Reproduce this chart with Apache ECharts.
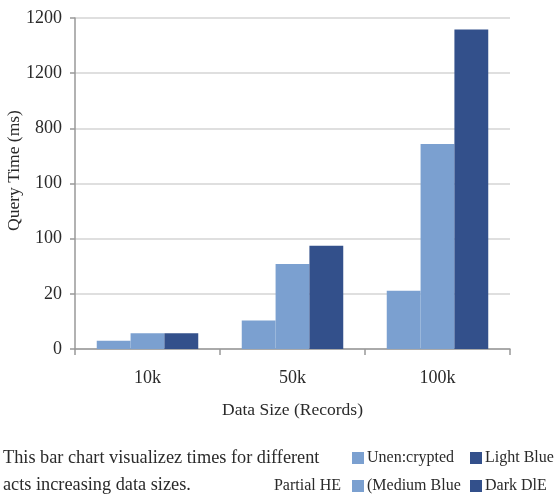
<!DOCTYPE html>
<html>
<head>
  <meta charset="UTF-8">
  <title>Query Time</title>
  <script src="https://cdn.jsdelivr.net/npm/echarts@6/dist/echarts.min.js"></script>
  <style>
    html, body { margin: 0; padding: 0; background: #fff; }
  </style>
</head>
<body>
  <div id="chart" style="width: 556px; height: 498px"></div>
  <script>
    // data
    const categories = ['10k', '50k', '100k'];
    const unencrypted = [30, 103, 211];
    const partialHE = [57, 308, 743];
    const fullHE = [57, 374, 1158];
    // tick labels as printed (they don't follow the scale)
    const yTickLabels = ['0', '20', '100', '100', '800', '1200', '1200'];

    const light = '#7ba0d0';
    const dark = '#33508b';
    const font = 'Liberation Serif';
    const textColor = '#2a2a2a';

    const myChart = echarts.init(document.getElementById('chart'));

    // legend + caption drawn as plain text, layout is not a normal legend
    function swatch(x, y, color) {
      return { type: 'rect', shape: { x: x, y: y, width: 12, height: 12 }, style: { fill: color } };
    }
    function label(x, y, text, size, align) {
      return {
        type: 'text', x: x, y: y,
        style: { text: text, fill: textColor, font: size + 'px "' + font + '"', textAlign: align || 'left', textVerticalAlign: 'middle' }
      };
    }

    const option = {
      animation: false,
      grid: { left: 75, right: 46, top: 18, bottom: 149, outerBoundsMode: 'none', containLabel: false },
      xAxis: {
        type: 'category',
        data: categories,
        name: 'Data Size (Records)',
        nameLocation: 'middle',
        nameGap: 52,
        nameMoveOverlap: false,
        nameTextStyle: { fontFamily: font, fontSize: 17.5, color: textColor },
        axisLine: { lineStyle: { color: '#999', width: 1.5 } },
        axisTick: { show: true, length: 6, lineStyle: { color: '#999', width: 1.5 } },
        axisLabel: { margin: 20, fontFamily: font, fontSize: 18, color: textColor }
      },
      yAxis: {
        type: 'value',
        min: 0,
        max: 1200,
        interval: 200,
        name: 'Query Time (ms)',
        nameLocation: 'middle',
        nameGap: 52,
        nameMoveOverlap: false,
        nameTextStyle: { fontFamily: font, fontSize: 17.5, color: textColor, padding: [0, 0, 0, 26] },
        axisLine: { show: true, lineStyle: { color: '#999', width: 1.5 } },
        axisTick: { show: true, length: 5, lineStyle: { color: '#999', width: 1.5 } },
        axisLabel: {
          margin: 13, fontFamily: font, fontSize: 18, color: textColor,
          formatter: function (v) { return yTickLabels[Math.round(v / 200)]; }
        },
        splitLine: { lineStyle: { color: '#d4d4d4', width: 1.5 } }
      },
      series: [
        { name: 'Unen:crypted', type: 'bar', data: unencrypted, itemStyle: { color: light }, barGap: 0, barCategoryGap: '30%' },
        { name: 'Partial HE', type: 'bar', data: partialHE, itemStyle: { color: light } },
        { name: 'Dark DlE', type: 'bar', data: fullHE, itemStyle: { color: dark } }
      ],
      graphic: [
        label(3, 458, 'This bar chart visualizez times for different', 18.3),
        label(3, 485, 'acts increasing data sizes.', 18.3),
        swatch(352, 452, light),
        label(367, 458, 'Unen:crypted', 16),
        swatch(470, 452, dark),
        label(485, 458, 'Light Blue', 16),
        label(341, 486, 'Partial HE', 16, 'right'),
        swatch(352, 480, light),
        label(367, 486, '(Medium Blue', 16),
        swatch(470, 480, dark),
        label(485, 486, 'Dark DlE', 16)
      ]
    };
    myChart.setOption(option);
  </script>
</body>
</html>
